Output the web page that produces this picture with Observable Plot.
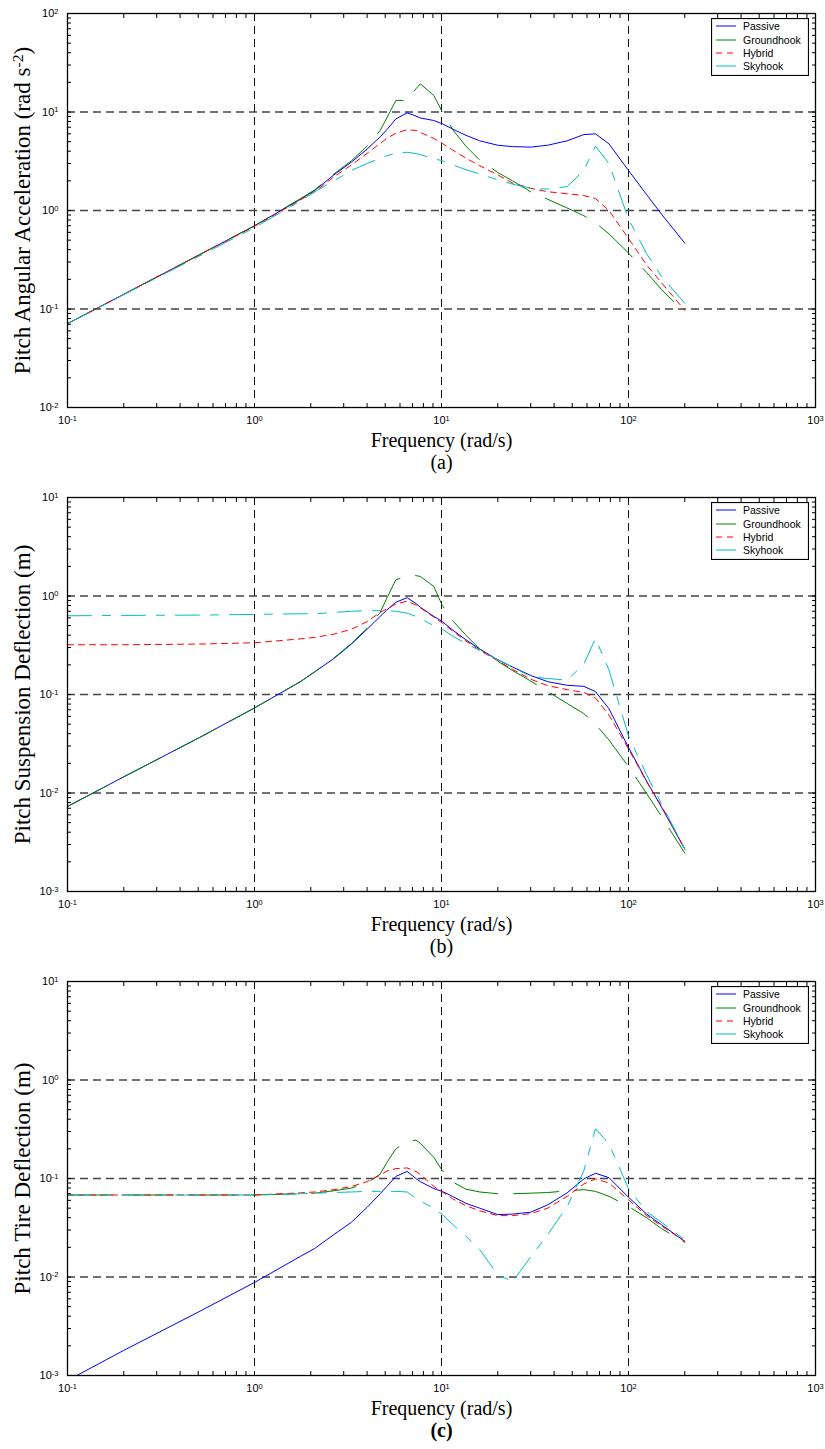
<!DOCTYPE html>
<html>
<head>
<meta charset="utf-8">
<script src="https://cdn.jsdelivr.net/npm/d3@7"></script>
<script src="https://cdn.jsdelivr.net/npm/@observablehq/plot@0.6"></script>
<style>
  body { margin: 0; background: #fff; }
  .panel { position: relative; width: 825px; }
  .panel svg.legend { position: absolute; left: 711px; top: 18px; }
</style>
</head>
<body>
<div id="chart"></div>
<script>
// Frequency grid (rad/s) shared by every response curve
const freq = [0.1, 0.2, 0.5, 1, 1.76, 2.1, 2.66, 3.3, 4, 4.7, 5.1, 5.7, 6.55, 7.3, 7.7, 9.1,
              10.1, 11.5, 13.5, 16, 20, 24, 30, 37, 47, 57.7, 66.6, 78.6, 100, 125, 150, 200];

const seriesNames = ["Passive", "Groundhook", "Hybrid", "Skyhook"];

// (a) pitch angular acceleration, rad s^-2
const accelPassive    = [0.071,0.141,0.35,0.70,1.30,1.6,2.3,3.1,4.2,5.6,6.6,8.5,9.8,9.1,8.7,8.2,7.6,6.7,5.8,5.1,4.6,4.45,4.4,4.6,5.1,5.9,6.0,4.75,2.55,1.45,0.92,0.466];
const accelGroundhook = [0.071,0.141,0.35,0.70,1.32,1.62,2.35,3.2,4.5,6.5,8.7,13.1,13.1,17.2,19.3,14.7,10.0,6.6,4.5,3.25,2.43,2.0,1.55,1.3,1.06,0.885,0.75,0.58,0.37,0.235,0.158,0.092];
const accelHybrid     = [0.071,0.141,0.35,0.69,1.28,1.55,2.2,2.9,3.8,4.8,5.4,6.1,6.6,6.5,6.2,5.4,4.8,4.1,3.4,2.85,2.3,1.9,1.68,1.55,1.48,1.42,1.32,1.0,0.52,0.28,0.185,0.097];
const accelSkyhook    = [0.071,0.14,0.34,0.67,1.25,1.55,2.0,2.55,3.0,3.4,3.6,3.82,3.9,3.78,3.7,3.35,3.2,2.9,2.6,2.35,2.05,1.85,1.68,1.65,1.75,2.55,4.5,3.0,0.82,0.365,0.215,0.114];

// (b) pitch suspension deflection, m
const suspPassive    = [0.0073,0.0146,0.036,0.073,0.135,0.17,0.232,0.325,0.46,0.62,0.72,0.865,0.96,0.84,0.77,0.62,0.55,0.45,0.36,0.29,0.225,0.19,0.156,0.135,0.124,0.121,0.107,0.0716,0.029,0.0132,0.0072,0.0027];
const suspGroundhook = [0.0073,0.0146,0.036,0.073,0.135,0.17,0.235,0.33,0.47,0.68,0.95,1.46,1.6,1.61,1.58,1.25,0.8,0.56,0.40,0.29,0.217,0.175,0.137,0.107,0.081,0.064,0.05,0.0345,0.0185,0.0099,0.0058,0.00245];
const suspHybrid     = [0.32,0.32,0.325,0.335,0.367,0.38,0.41,0.46,0.55,0.68,0.74,0.83,0.885,0.81,0.76,0.61,0.53,0.44,0.35,0.28,0.22,0.18,0.143,0.123,0.112,0.105,0.092,0.062,0.028,0.013,0.0074,0.0027];
const suspSkyhook    = [0.63,0.635,0.64,0.65,0.66,0.66,0.68,0.70,0.71,0.71,0.71,0.70,0.67,0.62,0.59,0.50,0.46,0.39,0.33,0.28,0.225,0.19,0.152,0.145,0.14,0.204,0.37,0.178,0.038,0.0153,0.0078,0.0027];

// (c) pitch tire deflection, m
const tirePassive    = [0.00089,0.0018,0.0044,0.0088,0.0162,0.0195,0.027,0.036,0.051,0.07,0.083,0.105,0.118,0.1,0.093,0.079,0.074,0.0655,0.056,0.05,0.043,0.0435,0.0455,0.054,0.0716,0.099,0.113,0.102,0.0645,0.0435,0.034,0.023];
const tireGroundhook = [0.068,0.068,0.068,0.068,0.07,0.071,0.075,0.08,0.09,0.111,0.145,0.2,0.237,0.245,0.228,0.164,0.12,0.092,0.078,0.073,0.07,0.07,0.071,0.072,0.075,0.077,0.074,0.066,0.052,0.04,0.031,0.0225];
const tireHybrid     = [0.068,0.068,0.068,0.068,0.0715,0.073,0.077,0.083,0.093,0.108,0.119,0.126,0.128,0.118,0.11,0.083,0.073,0.062,0.053,0.047,0.042,0.042,0.044,0.05,0.066,0.088,0.099,0.09,0.0607,0.042,0.033,0.023];
const tireSkyhook    = [0.068,0.068,0.068,0.068,0.07,0.071,0.072,0.073,0.074,0.074,0.074,0.074,0.073,0.063,0.059,0.05,0.043,0.034,0.026,0.019,0.0105,0.009,0.016,0.027,0.052,0.12,0.32,0.225,0.079,0.046,0.036,0.0238];

// Line styles, in series order
const styles = [
  {stroke: "#0000ff", dash: null},
  {stroke: "#008000", dash: "45,16"},
  {stroke: "#ff0000", dash: "6,5"},
  {stroke: "#00bfbf", dash: "24,11,8,11"}
];

function logTicks(lo, hi) {
  const t = [];
  for (let e = lo; e < hi; e++) for (let k = 1; k < 10; k++) t.push(+(k * 10 ** e).toPrecision(3));
  t.push(10 ** hi);
  return t;
}
const decades = (lo, hi) => d3.range(lo, hi + 1).map(e => 10 ** e);
const powerLabel = d => "10^" + Math.round(Math.log10(d));

// Turn "a^b rest" text into a base with a raised exponent
function raiseExponents(svg) {
  svg.querySelectorAll("text").forEach(t => {
    const s = t.textContent;
    const m = s.match(/^(.*?)\^(-?\d+)(.*)$/);
    if (!m) return;
    t.textContent = "";
    const ns = "http://www.w3.org/2000/svg";
    const a = document.createElementNS(ns, "tspan"); a.textContent = m[1]; t.appendChild(a);
    const b = document.createElementNS(ns, "tspan"); b.textContent = m[2];
    b.setAttribute("dy", "-0.45em"); b.setAttribute("font-size", "68%"); t.appendChild(b);
    if (m[3]) {
      const c = document.createElementNS(ns, "tspan"); c.textContent = m[3];
      c.setAttribute("dy", "0.3em"); t.appendChild(c);
    }
  });
}

function makePanel({series, yLo, yHi, yLabel, tag, height, tagWeight}) {
  const xTicks = logTicks(-1, 3);
  const yTicks = logTicks(yLo, yHi);
  const serif = "'Liberation Serif', 'Times New Roman', serif";
  const lines = series.map((vals, i) =>
    Plot.line(freq.map((f, j) => ({f, v: vals[j]})), {
      x: "f", y: "v", stroke: styles[i].stroke, strokeWidth: 1,
      strokeDasharray: styles[i].dash, clip: true
    }));
  const svg = Plot.plot({
    width: 825, height,
    marginLeft: 67, marginRight: 10, marginTop: 13, marginBottom: height - 407,
    style: {fontFamily: "'Liberation Sans', Arial, sans-serif", fontSize: "11px", background: "#fff", color: "#000"},
    x: {type: "log", domain: [0.1, 1000]},
    y: {type: "log", domain: [10 ** yLo, 10 ** yHi]},
    marks: [
      Plot.gridX([1, 10, 100], {stroke: "#111", strokeOpacity: 1, strokeWidth: 1, strokeDasharray: "8,5"}),
      Plot.gridY(decades(yLo + 1, yHi - 1), {stroke: "#444", strokeOpacity: 1, strokeWidth: 1.3, strokeDasharray: "8,5"}),
      ...lines,
      Plot.axisX(xTicks, {anchor: "bottom", tickSize: -4, tickFormat: () => "", label: null}),
      Plot.axisX(xTicks, {anchor: "top", tickSize: -4, tickFormat: () => "", label: null}),
      Plot.axisY(yTicks, {anchor: "left", tickSize: -4, tickFormat: () => "", label: null}),
      Plot.axisY(yTicks, {anchor: "right", tickSize: -4, tickFormat: () => "", label: null}),
      Plot.axisX(decades(-1, 3), {anchor: "bottom", tickSize: 0, tickPadding: 9, tickFormat: powerLabel, label: null}),
      Plot.axisY(decades(yLo, yHi), {anchor: "left", tickSize: 0, tickPadding: 9, tickFormat: powerLabel, label: null}),
      Plot.frame({stroke: "#000", strokeWidth: 1.3}),
      Plot.text(["Frequency (rad/s)"], {text: d => d, frameAnchor: "bottom", dy: 33, lineAnchor: "middle",
        textAnchor: "middle", fontFamily: serif, fontSize: 20}),
      Plot.text([tag], {text: d => d, frameAnchor: "bottom", dy: 55, lineAnchor: "middle",
        textAnchor: "middle", fontFamily: serif, fontSize: 20, fontWeight: tagWeight}),
      Plot.text([yLabel], {text: d => d, frameAnchor: "left", dx: -45, rotate: -90, lineAnchor: "middle",
        textAnchor: "middle", fontFamily: serif, fontSize: 23})
    ]
  });
  raiseExponents(svg);

  const wrap = document.createElement("div");
  wrap.className = "panel";
  wrap.appendChild(svg);

  // Legend box in the upper-right corner of the axes
  const leg = d3.create("svg").attr("class", "legend").attr("width", 98).attr("height", 58);
  leg.append("rect").attr("x", 0.5).attr("y", 0.5).attr("width", 97).attr("height", 57)
    .attr("fill", "#fff").attr("stroke", "#000").attr("stroke-width", 1.2);
  const rowY = [8, 22, 35, 48];
  seriesNames.forEach((name, i) => {
    leg.append("line").attr("x1", 5).attr("x2", 25).attr("y1", rowY[i]).attr("y2", rowY[i])
      .attr("stroke", styles[i].stroke).attr("stroke-width", 1)
      .attr("stroke-dasharray", styles[i].dash);
    leg.append("text").attr("x", 32).attr("y", rowY[i]).attr("dy", "0.35em")
      .attr("font-family", "'Liberation Sans', Arial, sans-serif").attr("font-size", 10.5)
      .text(name);
  });
  wrap.appendChild(leg.node());
  return wrap;
}

const chart = document.getElementById("chart");
chart.appendChild(makePanel({
  series: [accelPassive, accelGroundhook, accelHybrid, accelSkyhook],
  yLo: -2, yHi: 2, yLabel: "Pitch Angular Acceleration (rad s^-2)", tag: "(a)", height: 484, tagWeight: "normal"
}));
chart.appendChild(makePanel({
  series: [suspPassive, suspGroundhook, suspHybrid, suspSkyhook],
  yLo: -3, yHi: 1, yLabel: "Pitch Suspension Deflection (m)", tag: "(b)", height: 484, tagWeight: "normal"
}));
chart.appendChild(makePanel({
  series: [tirePassive, tireGroundhook, tireHybrid, tireSkyhook],
  yLo: -3, yHi: 1, yLabel: "Pitch Tire Deflection (m)", tag: "(c)", height: 481, tagWeight: "bold"
}));
</script>
</body>
</html>
